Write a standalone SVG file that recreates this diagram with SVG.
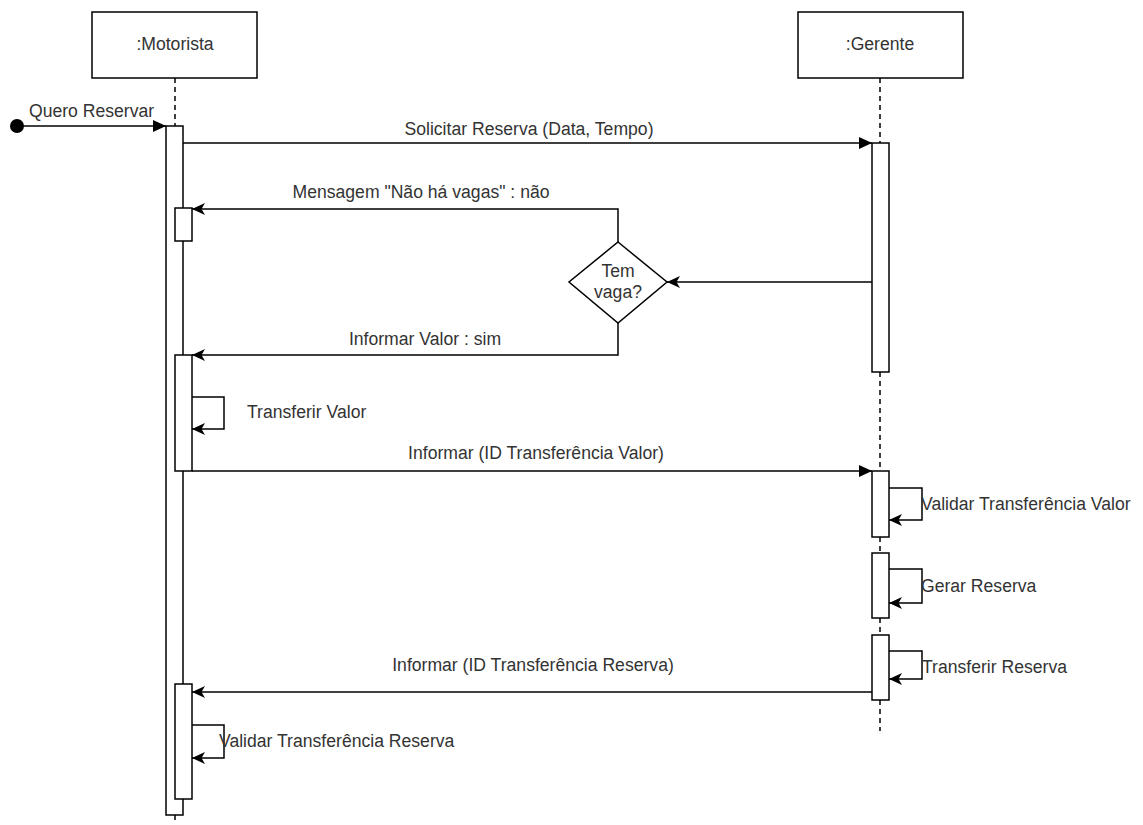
<svg xmlns="http://www.w3.org/2000/svg" width="1143" height="825" viewBox="0 0 1143 825">
  <style>
    .box { fill: #fff; stroke: #000; stroke-width: 1.5; }
    .bar { fill: #fff; stroke: #000; stroke-width: 1.5; }
    .life { fill: none; stroke: #000; stroke-width: 1.5; stroke-dasharray: 5 4; }
    .msg { fill: none; stroke: #000; stroke-width: 1.5; }
    .lbl { font-family: "Liberation Sans", Arial, sans-serif; font-size: 17.6px; fill: #333; }
    .mid { text-anchor: middle; }
  </style>
  <defs>
    <marker id="block" markerUnits="userSpaceOnUse" markerWidth="14" markerHeight="13" refX="13" refY="6" orient="auto">
      <path d="M0,0 L13,6 L0,12 Z" fill="#000"/>
    </marker>
    <marker id="open" markerUnits="userSpaceOnUse" markerWidth="14" markerHeight="13" refX="13" refY="6" orient="auto">
      <path d="M0,0 L13,6 L0,12 L3.5,6 Z" fill="#000"/>
    </marker>
  </defs>
  <rect width="1143" height="825" fill="#fff"/>

  <!-- lifeline dashes -->
  <g id="lifelines">
    <line class="life" x1="175" y1="78" x2="175" y2="126"/>
    <line class="life" x1="175" y1="815" x2="175" y2="824"/>
    <line class="life" x1="880" y1="78" x2="880" y2="143"/>
    <line class="life" x1="880" y1="372" x2="880" y2="471"/>
    <line class="life" x1="880" y1="537" x2="880" y2="553"/>
    <line class="life" x1="880" y1="618" x2="880" y2="635"/>
    <line class="life" x1="880" y1="700" x2="880" y2="731"/>
  </g>

  <g id="motorista">
    <rect class="box" x="92" y="12" width="165" height="66"/>
    <text class="lbl mid" x="175" y="50">:Motorista</text>
    <rect class="bar" x="166" y="126" width="17" height="689"/>
    <rect class="bar" x="175" y="208" width="17" height="33"/>
    <rect class="bar" x="175" y="355" width="17" height="116"/>
    <rect class="bar" x="175" y="684" width="17" height="115"/>
  </g>

  <g id="gerente">
    <rect class="box" x="798" y="12" width="165" height="66"/>
    <text class="lbl mid" x="880" y="50">:Gerente</text>
    <rect class="bar" x="872" y="143" width="17" height="229"/>
    <rect class="bar" x="872" y="471" width="17" height="66"/>
    <rect class="bar" x="872" y="553" width="17" height="65"/>
    <rect class="bar" x="872" y="635" width="17" height="65"/>
  </g>

  <g id="decisao">
    <polygon class="box" points="618,242 667,282 618,323 569,282"/>
    <text class="lbl mid" x="618" y="277">Tem</text>
    <text class="lbl mid" x="618" y="298">vaga?</text>
  </g>

  <g id="inicio">
    <circle cx="17" cy="126" r="7" fill="#000"/>
  </g>

  <g id="connectors">
    <line class="msg" x1="17" y1="126" x2="166" y2="126" marker-end="url(#block)"/>
    <line class="msg" x1="183" y1="143" x2="872" y2="143" marker-end="url(#block)"/>
    <polyline class="msg" points="618,242 618,209 192,209" marker-end="url(#open)"/>
    <line class="msg" x1="872" y1="282" x2="667" y2="282" marker-end="url(#open)"/>
    <polyline class="msg" points="618,323 618,355 192,355" marker-end="url(#open)"/>
    <polyline class="msg" points="192,397 224,397 224,429 192,429" marker-end="url(#open)"/>
    <line class="msg" x1="192" y1="471" x2="872" y2="471" marker-end="url(#block)"/>
    <polyline class="msg" points="889,488 922,488 922,520 889,520" marker-end="url(#open)"/>
    <polyline class="msg" points="889,569 922,569 922,603 889,603" marker-end="url(#open)"/>
    <polyline class="msg" points="889,651 922,651 922,679 889,679" marker-end="url(#open)"/>
    <line class="msg" x1="872" y1="692" x2="192" y2="692" marker-end="url(#open)"/>
    <polyline class="msg" points="192,725 224,725 224,758 192,758" marker-end="url(#open)"/>
  </g>

  <g id="labels">
    <text class="lbl" x="29" y="117">Quero Reservar</text>
    <text class="lbl mid" x="529" y="135">Solicitar Reserva (Data, Tempo)</text>
    <text class="lbl mid" x="421" y="198">Mensagem "Não há vagas" : não</text>
    <text class="lbl mid" x="425" y="345">Informar Valor : sim</text>
    <text class="lbl" x="247" y="418">Transferir Valor</text>
    <text class="lbl mid" x="536" y="459">Informar (ID Transferência Valor)</text>
    <text class="lbl" x="921" y="510">Validar Transferência Valor</text>
    <text class="lbl" x="921" y="592">Gerar Reserva</text>
    <text class="lbl" x="922" y="673">Transferir Reserva</text>
    <text class="lbl mid" x="533" y="671">Informar (ID Transferência Reserva)</text>
    <text class="lbl" x="219" y="747">Validar Transferência Reserva</text>
  </g>
</svg>
